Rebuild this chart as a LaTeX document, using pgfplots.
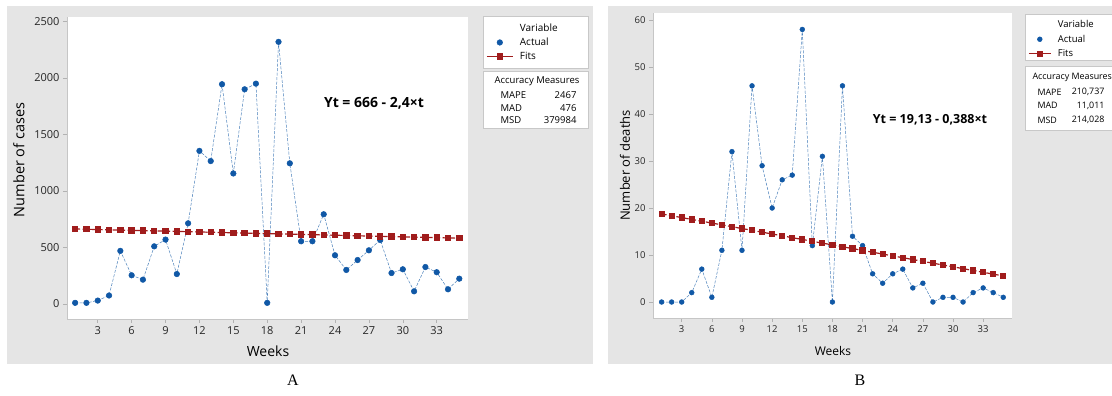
\documentclass[border=0pt]{standalone}
\usepackage{fontspec}
\setmainfont{Open Sans}
\newfontfamily\seriffont{Liberation Serif}
\usepackage{pgfplots}
\pgfplotsset{compat=1.18}
\usepackage{pgfplotstable}

\definecolor{bg}{RGB}{229,229,229}
\definecolor{actblue}{RGB}{16,88,166}
\definecolor{fitred}{RGB}{160,28,28}
\definecolor{boxgray}{RGB}{200,200,200}

\pgfplotstableread{
w cases fit
1 10 663.6
2 10 661.2
3 30 658.8
4 75 656.4
5 470 654.0
6 254 651.6
7 215 649.2
8 510 646.8
9 570 644.4
10 265 642.0
11 714 639.6
12 1355 637.2
13 1265 634.8
14 1945 632.4
15 1155 630.0
16 1900 627.6
17 1950 625.2
18 10 622.8
19 2320 620.4
20 1245 618.0
21 555 615.6
22 555 613.2
23 794 610.8
24 431 608.4
25 301 606.0
26 389 603.6
27 475 601.2
28 566 598.8
29 274 596.4
30 307 594.0
31 112 591.6
32 327 589.2
33 281 586.8
34 130 584.4
35 224 582.0
}\dataA

\pgfplotstableread{
w deaths fit
1 0 18.742
2 0 18.354
3 0 17.966
4 2 17.578
5 7 17.190
6 1 16.802
7 11 16.414
8 32 16.026
9 11 15.638
10 46 15.250
11 29 14.862
12 20 14.474
13 26 14.086
14 27 13.698
15 58 13.310
16 12 12.922
17 31 12.534
18 0 12.146
19 46 11.758
20 14 11.370
21 12 10.982
22 6 10.594
23 4 10.206
24 6 9.818
25 7 9.430
26 3 9.042
27 4 8.654
28 0 8.266
29 1 7.878
30 1 7.490
31 0 7.102
32 2 6.714
33 3 6.326
34 2 5.938
35 1 5.550
}\dataB

\pgfplotsset{
  mcommon/.style={
    scale only axis,
    axis background/.style={fill=white},
    axis x line*=bottom, axis y line*=left,
    axis line style={-, gray!45},
    tick align=outside, major tick length=4pt,
    tick style={gray!60, line width=0.5pt},
    /pgf/number format/assume math mode=true,
    /pgf/number format/set thousands separator={},
    xtick={3,6,...,33},
    clip=false,
    legend cell align=left,
  },
  actstyle/.style={color=actblue!75, line width=0.5pt, dash pattern=on 3pt off 1.5pt,
    mark=*, mark size=#1, mark options={solid, fill=actblue, draw=actblue},
    legend image post style={only marks}},
  fitstyle/.style={color=fitred, line width=1.2pt, dash pattern=on 5pt off 2.5pt,
    mark=square*, mark size=#1, mark options={solid, fill=fitred, draw=fitred},
    legend image post style={solid}},
}

\begin{document}
\begin{tikzpicture}[x=1pt,y=1pt]
\useasboundingbox (0,0) rectangle (1112,396);
\fill[white] (0,0) rectangle (1112,396);
\fill[bg] (7,32) rectangle (593,390);
\fill[bg] (608,32) rectangle (1112,390);
% legend boxes
\draw[boxgray, fill=white] (482.7,327.7) rectangle (588.3,379.3);
\draw[boxgray, fill=white] (482.7,267.7) rectangle (588.3,325);
\draw[boxgray, fill=white] (1025,336) rectangle (1120,381.7);
\draw[boxgray, fill=white] (1025,266) rectangle (1120,330);

% ---------- Panel A ----------
\begin{axis}[mcommon,
  at={(67pt,77pt)}, anchor=south west,
  width=401pt, height=302pt,
  xmin=0.28, xmax=35.77, ymin=-133, ymax=2540,
  ytick={0,500,...,2500},
  ticklabel style={font=\fontsize{11}{13}\selectfont, text=black!85},
  legend style={at={(1.0449,0.983)}, anchor=north west, draw=none, fill=none,
    font=\fontsize{10}{12}\selectfont, inner sep=0pt, row sep=2pt, column sep=5pt,
    nodes={inner sep=1.5pt}},
  legend image code/.code={\draw[mark repeat=2,mark phase=2,#1] plot coordinates {(0pt,0pt) (13pt,0pt) (26pt,0pt)};},
]
\addlegendimage{empty legend}\addlegendentry{Variable}
\addplot[actstyle=2.8pt] table[x=w,y=cases]{\dataA};
\addlegendentry{Actual}
\addplot[fitstyle=2.6pt] table[x=w,y=fit]{\dataA};
\addlegendentry{Fits}
\end{axis}

% ---------- Panel B ----------
\begin{axis}[mcommon,
  at={(653pt,78pt)}, anchor=south west,
  width=359pt, height=305pt,
  xmin=0.144, xmax=35.87, ymin=-3.4, ymax=61.5,
  ytick={0,10,...,60},
  ticklabel style={font=\fontsize{9.5}{11}\selectfont, text=black!85},
  legend style={at={(1.0446,0.982)}, anchor=north west, draw=none, fill=none,
    font=\fontsize{9.5}{11.5}\selectfont, inner sep=0pt, row sep=3pt, column sep=5pt,
    nodes={inner sep=1.5pt}},
  legend image code/.code={\draw[mark repeat=2,mark phase=2,#1] plot coordinates {(0pt,0pt) (11pt,0pt) (22pt,0pt)};},
]
\addlegendimage{empty legend}\addlegendentry{Variable}
\addplot[actstyle=2.4pt] table[x=w,y=deaths]{\dataB};
\addlegendentry{Actual}
\addplot[fitstyle=2.5pt] table[x=w,y=fit]{\dataB};
\addlegendentry{Fits}
\end{axis}

% axis labels
\node[rotate=90, font=\fontsize{14.5}{16}\selectfont] at (19,236) {Number of cases};
\node[font=\fontsize{14}{16}\selectfont] at (268,44.3) {Weeks};
\node[rotate=90, font=\fontsize{13}{15}\selectfont] at (625,230.5) {Number of deaths};
\node[font=\fontsize{12}{14}\selectfont] at (833,45.3) {Weeks};

% equations
\node[font=\fontsize{14}{16}\selectfont\bfseries] at (374,293) {Yt = 666 - 2,4×t};
\node[font=\fontsize{12.5}{15}\selectfont\bfseries] at (930,276) {Yt = 19,13 - 0,388×t};

% accuracy measures A
\begin{scope}[font=\fontsize{9.5}{11}\selectfont]
\node at (537,315) {Accuracy Measures};
\node[anchor=west] at (497,301) {MAPE}; \node[anchor=east] at (580,301) {2467};
\node[anchor=west] at (497,288.3) {MAD}; \node[anchor=east] at (580,288.3) {476};
\node[anchor=west] at (497,276) {MSD}; \node[anchor=east] at (580,276) {379984};
\end{scope}
% accuracy measures B
\begin{scope}[font=\fontsize{8.9}{10.5}\selectfont]
\node[anchor=west] at (1029,318.7) {Accuracy Measures};
\node[anchor=west] at (1034,303.7) {MAPE}; \node[anchor=east] at (1108,303.7) {210,737};
\node[anchor=west] at (1034,290.3) {MAD}; \node[anchor=east] at (1108,290.3) {11,011};
\node[anchor=west] at (1034,276) {MSD}; \node[anchor=east] at (1108,276) {214,028};
\end{scope}

% panel letters
\node[font=\seriffont\fontsize{16}{18}\selectfont] at (293,16) {A};
\node[font=\seriffont\fontsize{16}{18}\selectfont] at (860,16) {B};
\end{tikzpicture}
\end{document}
